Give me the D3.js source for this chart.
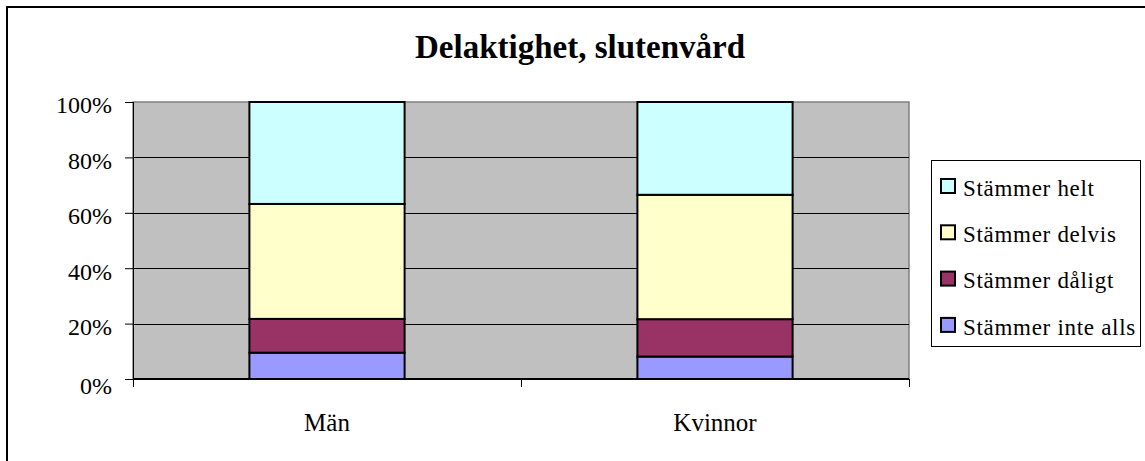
<!DOCTYPE html>
<html>
<head>
<meta charset="utf-8">
<script src="https://cdn.jsdelivr.net/npm/d3@7"></script>
<style>
    body { margin: 0; background: #fff; }
</style>
</head>
<body>
<div id="chart"></div>
<script>
// Data (percent per answer, bottom to top)
const categories = ["Män", "Kvinnor"];
const seriesNames = ["Stämmer inte alls", "Stämmer dåligt", "Stämmer delvis", "Stämmer helt"];
const seriesColors = ["#9999ff", "#993366", "#ffffcc", "#ccffff"];
const manValues = [9.5, 12.2, 41.5, 36.8];
const kvinnorValues = [8.1, 13.5, 44.9, 33.5];
const yTicks = [0, 20, 40, 60, 80, 100];

const serif = "'Liberation Serif', 'Times New Roman', serif";
const width = 1145, height = 461;
const margin = { top: 102, right: 236, bottom: 82, left: 133 };
const plotW = width - margin.left - margin.right;
const plotH = height - margin.top - margin.bottom;

let svg = d3.select("#chart").append("svg")
    .attr("width", width)
    .attr("height", height)
    .style("font-family", serif);

// outer chart border (only top/left visible in the crop)
svg.append("rect")
    .attr("x", 7).attr("y", 7)
    .attr("width", width + 20).attr("height", height + 20)
    .attr("fill", "none")
    .attr("stroke", "#000")
    .attr("stroke-width", 2);

svg.append("text")
    .attr("x", 580)
    .attr("y", 58)
    .attr("text-anchor", "middle")
    .style("font-family", serif)
    .style("font-size", "33px")
    .style("font-weight", "bold")
    .text("Delaktighet, slutenvård");

let g = svg.append("g")
    .attr("transform", "translate(" + margin.left + "," + margin.top + ")");

let x = d3.scaleBand().domain(categories).range([0, plotW]).paddingInner(0.6).paddingOuter(0.3);
let y = d3.scaleLinear().domain([0, 100]).range([plotH, 0]);

// plot background
g.append("rect")
    .attr("width", plotW).attr("height", plotH)
    .attr("fill", "#c0c0c0")
    .attr("stroke", "#808080")
    .attr("stroke-width", 1.5);

// gridlines
g.selectAll(".grid")
    .data(yTicks.filter(d => d > 0 && d < 100))
    .enter().append("line")
    .attr("class", "grid")
    .attr("x1", 0).attr("x2", plotW)
    .attr("y1", d => Math.round(y(d)) + 0.5).attr("y2", d => Math.round(y(d)) + 0.5)
    .attr("stroke", "#000");

// stacked bars
const rows = [manValues, kvinnorValues].map((v, i) => {
    let o = { cat: categories[i] };
    seriesNames.forEach((s, j) => o[s] = v[j]);
    return o;
});
let stacked = d3.stack().keys(seriesNames)(rows);

g.selectAll(".layer")
    .data(stacked)
    .enter().append("g")
    .attr("class", "layer")
    .attr("fill", (d, i) => seriesColors[i])
    .selectAll("rect")
    .data(d => d)
    .enter().append("rect")
    .attr("x", d => x(d.data.cat))
    .attr("width", x.bandwidth())
    .attr("y", d => y(d[1]))
    .attr("height", d => y(d[0]) - y(d[1]))
    .attr("stroke", "#000")
    .attr("stroke-width", 2);

// y axis
let yAxis = d3.axisLeft(y).tickValues(yTicks).tickSize(8).tickPadding(13).tickFormat(d => d + "%");
let ya = g.append("g").call(yAxis);
ya.select(".domain").attr("d", "M0.5,0V" + (plotH + 8)).attr("stroke", "#000");
ya.selectAll("text")
    .style("font-family", serif)
    .style("font-size", "24px")
    .attr("dy", d => d === 0 ? "0.62em" : "0.45em");

// x axis: ticks at category boundaries
let xa = g.append("g").attr("transform", "translate(0," + plotH + ")");
xa.append("line").attr("x1", 0).attr("x2", plotW).attr("y1", 0).attr("y2", 0)
    .attr("stroke", "#000").attr("stroke-width", 2);
let bounds = [0, x.step() * 0.3 + x.bandwidth() + x.step() * 0.3, plotW];
xa.selectAll(".xt").data(bounds).enter().append("line")
    .attr("x1", d => d + 0.5).attr("x2", d => d + 0.5)
    .attr("y1", 0).attr("y2", 8)
    .attr("stroke", "#000");
xa.selectAll(".xl").data(categories).enter().append("text")
    .attr("x", d => x(d) + x.bandwidth() / 2)
    .attr("y", 52)
    .attr("text-anchor", "middle")
    .style("font-family", serif)
    .style("font-size", "25px")
    .text(d => d);

// legend (top entry = last series)
let legend = svg.append("g").attr("transform", "translate(931,160)");
legend.append("rect")
    .attr("x", 0.5).attr("y", 0.5)
    .attr("width", 209).attr("height", 186)
    .attr("fill", "#fff")
    .attr("stroke", "#000");

let items = legend.selectAll(".item")
    .data(seriesNames.slice().reverse())
    .enter().append("g")
    .attr("transform", (d, i) => "translate(10," + (26 + i * 46.3) + ")");
items.append("rect")
    .attr("x", 0).attr("y", -7)
    .attr("width", 14).attr("height", 14)
    .attr("fill", d => seriesColors[seriesNames.indexOf(d)])
    .attr("stroke", "#000")
    .attr("stroke-width", 2);
items.append("text")
    .attr("x", 22).attr("y", 0)
    .attr("dy", "0.43em")
    .style("font-family", serif)
    .style("font-size", "23px")
    .style("letter-spacing", "0.7px")
    .text(d => d);
</script>
</body>
</html>
